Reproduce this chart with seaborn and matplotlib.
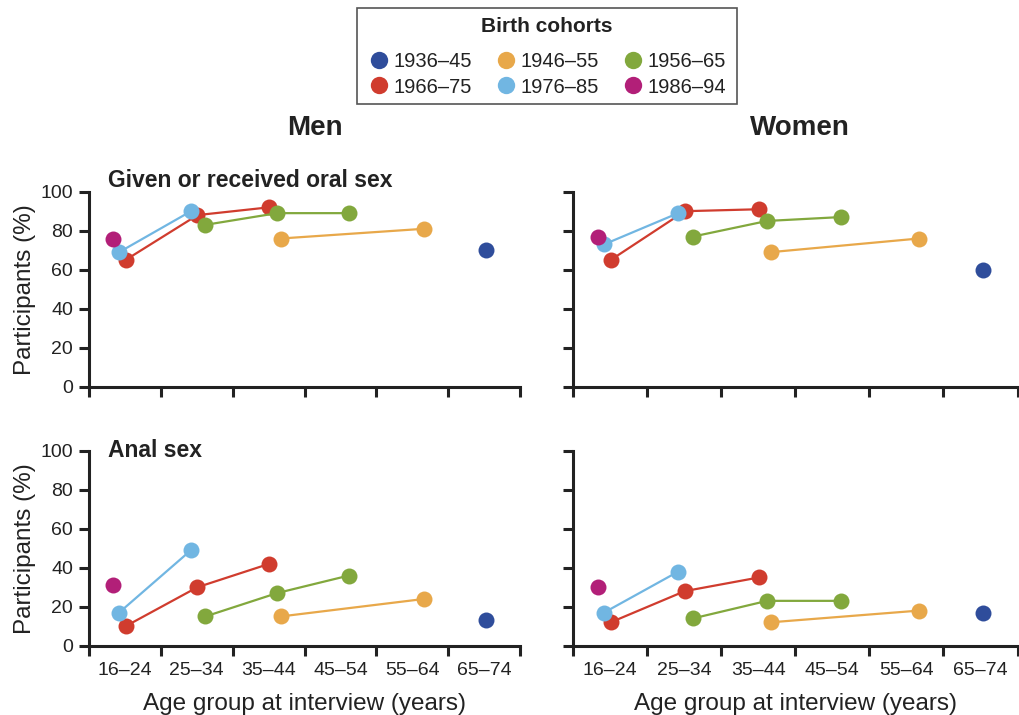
import numpy as np
import pandas as pd
import matplotlib
matplotlib.use("Agg")
import matplotlib.pyplot as plt
from matplotlib.lines import Line2D
from matplotlib.patches import Rectangle
import seaborn as sns

sns.set_style("ticks")
plt.rcParams['font.family'] = ['Liberation Sans', 'DejaVu Sans']

# ---------------- data ----------------
age_groups = ["16–24", "25–34", "35–44", "45–54", "55–64", "65–74"]
cohorts = ["1936–45", "1946–55", "1956–65", "1966–75", "1976–85", "1986–94"]
colors = ["#2F4D9B", "#E8A84A", "#82A83D", "#D03C2E", "#71B6E2", "#B21F78"]

# age group index reached by each cohort at each survey point
cohort_ages = {
    "1936–45": [5],
    "1946–55": [2, 4],
    "1956–65": [1, 2, 3],
    "1966–75": [0, 1, 2],
    "1976–85": [0, 1],
    "1986–94": [0],
}

men_oral = {
    "1936–45": [70],
    "1946–55": [76, 81],
    "1956–65": [83, 89, 89],
    "1966–75": [65, 88, 92],
    "1976–85": [69, 90],
    "1986–94": [76],
}
women_oral = {
    "1936–45": [60],
    "1946–55": [69, 76],
    "1956–65": [77, 85, 87],
    "1966–75": [65, 90, 91],
    "1976–85": [73, 89],
    "1986–94": [77],
}
men_anal = {
    "1936–45": [13],
    "1946–55": [15, 24],
    "1956–65": [15, 27, 36],
    "1966–75": [10, 30, 42],
    "1976–85": [17, 49],
    "1986–94": [31],
}
women_anal = {
    "1936–45": [17],
    "1946–55": [12, 18],
    "1956–65": [14, 23, 23],
    "1966–75": [12, 28, 35],
    "1976–85": [17, 38],
    "1986–94": [30],
}

# horizontal placement of each cohort within an age-group band (layout)
cohort_offset = {
    "1936–45": 0.53, "1946–55": 0.67, "1956–65": 0.62,
    "1966–75": 0.51, "1976–85": 0.42, "1986–94": 0.34,
}
draw_order = ["1936–45", "1946–55", "1966–75", "1956–65", "1976–85", "1986–94"]
palette = dict(zip(cohorts, colors))


def build_frame(values):
    rows = []
    for c in cohorts:
        for a, v in zip(cohort_ages[c], values[c]):
            rows.append({"cohort": c, "x": a + cohort_offset[c], "value": v})
    return pd.DataFrame(rows)


TXT = "#222222"
fig = plt.figure(figsize=(10.19, 7.15), dpi=100)
W, H = 1019, 715


def make_ax(x0, x1, ytop, ybot):
    return fig.add_axes([x0 / W, 1 - ybot / H, (x1 - x0) / W, (ybot - ytop) / H])


axes = {
    "men_oral": make_ax(89, 520, 191.7, 386.7),
    "women_oral": make_ax(573, 1017.5, 191.7, 386.7),
    "men_anal": make_ax(89, 520, 450.7, 645.7),
    "women_anal": make_ax(573, 1017.5, 450.7, 645.7),
}
datasets = {
    "men_oral": men_oral, "women_oral": women_oral,
    "men_anal": men_anal, "women_anal": women_anal,
}

for key, ax in axes.items():
    df = build_frame(datasets[key])
    for c in draw_order:
        sub = df[df["cohort"] == c]
        sns.lineplot(data=sub, x="x", y="value", color=palette[c], ax=ax,
                     marker="o", markersize=11.5, markeredgewidth=0,
                     linewidth=1.6, legend=False, clip_on=False, sort=True)
    ax.set_xlim(0, 6)
    ax.set_ylim(0, 100)
    for s in ["top", "right"]:
        ax.spines[s].set_visible(False)
    for s in ["left", "bottom"]:
        ax.spines[s].set_linewidth(2.2)
        ax.spines[s].set_color(TXT)
    ax.set_xticks(range(7))
    ax.set_xticklabels([])
    ax.set_yticks([0, 20, 40, 60, 80, 100])
    ax.tick_params(axis="both", which="major", length=7.5, width=2.2,
                   color=TXT, labelcolor=TXT, labelsize=14, direction="out",
                   bottom=True, left=True)
    ax.tick_params(axis="y", which="major", pad=4)
    ax.set_xlabel("")
    ax.set_ylabel("")
    ax.set_facecolor("none")
    if key.startswith("women"):
        ax.set_yticklabels([])
    else:
        ax.set_ylabel("Participants (%)", fontsize=17.5, color=TXT, labelpad=3)
    if key.endswith("anal"):
        ax.set_xticks([i + 0.5 for i in range(6)], minor=True)
        ax.set_xticklabels(age_groups, minor=True)
        ax.tick_params(axis="x", which="minor", length=0, labelsize=14,
                       labelcolor=TXT, pad=12)
        ax.set_xlabel("Age group at interview (years)", fontsize=17.5,
                      color=TXT, labelpad=10)

axes["men_oral"].text(0.045, 1.0, "Given or received oral sex",
                      transform=axes["men_oral"].transAxes, fontsize=16.5,
                      fontweight="bold", color=TXT, ha="left", va="bottom")
axes["men_anal"].text(0.045, 1.0, "Anal sex",
                      transform=axes["men_anal"].transAxes, fontsize=16.5,
                      fontweight="bold", color=TXT, ha="left", va="center")

fig.text(315 / W, 1 - 128 / H, "Men", fontsize=20, fontweight="bold",
         color=TXT, ha="center", va="center")
fig.text(800 / W, 1 - 128 / H, "Women", fontsize=20, fontweight="bold",
         color=TXT, ha="center", va="center")

# legend: frame, title and row-major entries
fig.patches.append(Rectangle((357 / W, 1 - 104 / H), 380 / W, 96 / H,
                             transform=fig.transFigure, fill=False,
                             edgecolor="#555555", linewidth=1.2))
fig.text(547 / W, 1 - 26 / H, "Birth cohorts", fontsize=15, fontweight="bold",
         color=TXT, ha="center", va="center")
legend_order = ["1936–45", "1966–75", "1946–55", "1976–85", "1956–65", "1986–94"]
handles = [Line2D([], [], linestyle="none", marker="o", markersize=12.5,
                  markeredgewidth=0, color=palette[c]) for c in legend_order]
leg = fig.legend(handles, legend_order, ncol=3, loc="center",
                 bbox_to_anchor=(548 / W, 1 - 74.5 / H),
                 fontsize=14.5, frameon=False, handletextpad=0.25,
                 columnspacing=1.25, labelspacing=0.3, handlelength=0.9,
                 borderpad=0.0)
for t in leg.get_texts():
    t.set_color(TXT)

fig.savefig("out.png", dpi=100, facecolor="white")
